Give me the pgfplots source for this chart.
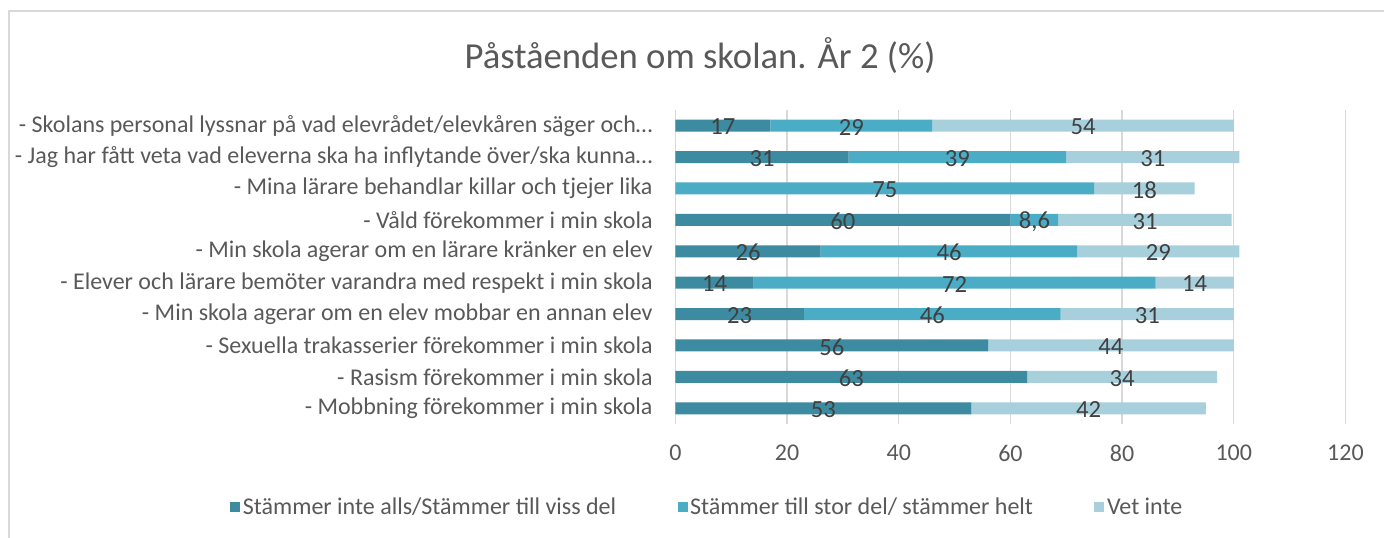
\documentclass[border=0pt]{standalone}
\usepackage{pgfplots}
\pgfplotsset{compat=1.18}
\usepackage{pgfplotstable}
\usepackage{fontspec}
\setmainfont{Carlito}
\definecolor{cdark}{RGB}{60,139,161}
\definecolor{cmid}{RGB}{75,172,198}
\definecolor{clight}{RGB}{168,207,220}
\definecolor{txt}{RGB}{89,89,89}
\definecolor{lab}{RGB}{64,64,64}
\definecolor{gridc}{RGB}{217,217,217}
\pgfplotstableread{
y d m l dl ml ll
0 17 29 54 17 29 54
1 31 39 31 31 39 31
2 0 75 18 {} 75 18
3 60 8.6 31 60 8,6 31
4 26 46 29 26 46 29
5 14 72 14 14 72 14
6 23 46 31 23 46 31
7 56 0 44 56 {} 44
8 63 0 34 63 {} 34
9 53 0 42 53 {} 42
}\data
\pgfplotsset{common/.style={
  at={(506.6pt,85.5pt)}, anchor=south west,
  scale only axis, width=502.5pt, height=235.5pt,
  xmin=0, xmax=120, ymin=-0.5, ymax=9.5, y dir=reverse,
  enlargelimits=false}}
\begin{document}
\begin{tikzpicture}
\useasboundingbox (0pt,0pt) rectangle (1038pt,403.5pt);
\draw[gridc, line width=0.9pt] (6.75pt,0pt) -- (6.75pt,395.25pt) -- (1040pt,395.25pt);
\node[text=txt, font=\fontsize{27.5}{32}\selectfont] at (525pt,361.5pt) {Påståenden om skolan. År 2 (\%)};
\begin{axis}[
  common,
  xbar stacked, bar width=9pt,
  xtick={0,20,...,120},
  ytick={0,...,9},
  yticklabels={- Skolans personal lyssnar på vad elevrådet/elevkåren säger och…,
    - Jag har fått veta vad eleverna ska ha inflytande över/ska kunna…,
    - Mina lärare behandlar killar och tjejer lika,
    - Våld förekommer i min skola,
    - Min skola agerar om en lärare kränker en elev,
    - Elever och lärare bemöter varandra med respekt i min skola,
    - Min skola agerar om en elev mobbar en annan elev,
    - Sexuella trakasserier förekommer i min skola,
    - Rasism förekommer i min skola,
    - Mobbning förekommer i min skola},
  axis line style={draw=none},
  major tick length=0pt,
  xmajorgrids, grid style={gridc, line width=1pt},
  tick label style={text=txt, font=\fontsize{18}{20}\selectfont},
  /pgf/number format/assume math mode=true,
  yticklabel style={anchor=east, inner xsep=0pt, xshift=-17pt},
  xticklabel style={anchor=north, inner ysep=0pt, yshift=-15.5pt},
  legend columns=3,
  legend style={draw=none, at={(0.048,-0.2643)}, anchor=center, text=txt, font=\fontsize{18}{20}\selectfont,
    /tikz/every even column/.append style={column sep=44pt}},
  legend image code/.code={\fill[#1] (0pt,-3.75pt) rectangle (7.5pt,3.75pt);},
]
\addplot[fill=cdark, draw=none] table[x=d, y=y] {\data};
\addplot[fill=cmid, draw=none] table[x=m, y=y] {\data};
\addplot[fill=clight, draw=none] table[x=l, y=y] {\data};
\legend{Stämmer inte alls/Stämmer till viss del, Stämmer till stor del/ stämmer helt, Vet inte}
\end{axis}
\begin{axis}[
  common, hide axis,
  nodes near coords,
  point meta=explicit symbolic,
  every node near coord/.append style={anchor=center, text=lab, font=\fontsize{18.5}{20}\selectfont, inner sep=0pt, yshift=-1pt},
]
\addplot[draw=none, no markers] table[x expr={\thisrow{d}/2}, y=y, meta=dl] {\data};
\addplot[draw=none, no markers] table[x expr={\thisrow{d}+\thisrow{m}/2}, y=y, meta=ml] {\data};
\addplot[draw=none, no markers] table[x expr={\thisrow{d}+\thisrow{m}+\thisrow{l}/2}, y=y, meta=ll] {\data};
\end{axis}
\end{tikzpicture}
\end{document}
